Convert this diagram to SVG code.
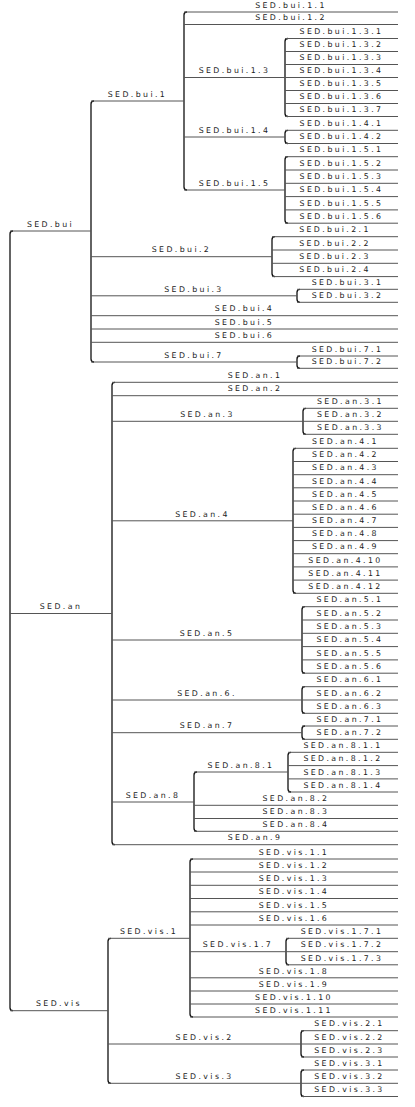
<svg xmlns="http://www.w3.org/2000/svg" width="415" height="1107" viewBox="0 0 415 1107">
<style>
.h{stroke:#555;stroke-width:1;fill:none}
.v{stroke:#111;stroke-width:1.3;fill:none}
text{font-family:"DejaVu Sans","Liberation Sans",sans-serif;font-size:7.8px;letter-spacing:2.4px;fill:#222;text-anchor:middle}
</style>
<rect width="415" height="1107" fill="#fff"/>
<g id="connectors">
<path class="v" d="M13,231Q10,231 10,234V1007.7Q10,1010.7 13,1010.7"/>
<path class="v" d="M94,101Q91,101 91,104V359Q91,362 94,362"/>
<path class="v" d="M187,12Q184,12 184,15V187Q184,190 187,190"/>
<path class="v" d="M288,38.5Q285,38.5 285,41.5V113.5Q285,116.5 288,116.5"/>
<path class="v" d="M288,130.3Q285,130.3 285,133.3V140.5Q285,143.5 288,143.5"/>
<path class="v" d="M288,156.7Q285,156.7 285,159.7V220.2Q285,223.2 288,223.2"/>
<path class="v" d="M275,236.7Q272,236.7 272,239.7V273.6Q272,276.6 275,276.6"/>
<path class="v" d="M300,289.3Q297,289.3 297,292.3V299.3Q297,302.3 300,302.3"/>
<path class="v" d="M300,356Q297,356 297,359V365.3Q297,368.3 300,368.3"/>
<path class="v" d="M115,382.3Q112,382.3 112,385.3V841.7Q112,844.7 115,844.7"/>
<path class="v" d="M306,408.3Q303,408.3 303,411.3V431.3Q303,434.3 306,434.3"/>
<path class="v" d="M296,448.3Q293,448.3 293,451.3V590.3Q293,593.3 296,593.3"/>
<path class="v" d="M305,606.7Q302,606.7 302,609.7V670.2Q302,673.2 305,673.2"/>
<path class="v" d="M305,686.7Q302,686.7 302,689.7V710.3Q302,713.3 305,713.3"/>
<path class="v" d="M305,726Q302,726 302,729V736.3Q302,739.3 305,739.3"/>
<path class="v" d="M197,772Q194,772 194,775V828.3Q194,831.3 197,831.3"/>
<path class="v" d="M291,752.3Q288,752.3 288,755.3V789Q288,792 291,792"/>
<path class="v" d="M111,938.3Q108,938.3 108,941.3V1080.3Q108,1083.3 111,1083.3"/>
<path class="v" d="M193,859Q190,859 190,862V1014Q190,1017 193,1017"/>
<path class="v" d="M289,938.3Q286,938.3 286,941.3V961.8Q286,964.8 289,964.8"/>
<path class="v" d="M304,1030.7Q301,1030.7 301,1033.7V1054Q301,1057 304,1057"/>
<path class="v" d="M304,1070Q301,1070 301,1073V1093.5Q301,1096.5 304,1096.5"/>
<line class="h" x1="10" y1="231" x2="91" y2="231"/>
<line class="h" x1="10" y1="613.5" x2="112" y2="613.5"/>
<line class="h" x1="10" y1="1010.7" x2="108" y2="1010.7"/>
<line class="h" x1="91" y1="101" x2="184" y2="101"/>
<line class="h" x1="184" y1="12" x2="398" y2="12"/>
<line class="h" x1="184" y1="24.5" x2="398" y2="24.5"/>
<line class="h" x1="184" y1="77.5" x2="285" y2="77.5"/>
<line class="h" x1="285" y1="38.5" x2="398" y2="38.5"/>
<line class="h" x1="285" y1="51.5" x2="398" y2="51.5"/>
<line class="h" x1="285" y1="64.5" x2="398" y2="64.5"/>
<line class="h" x1="285" y1="77.5" x2="398" y2="77.5"/>
<line class="h" x1="285" y1="90.5" x2="398" y2="90.5"/>
<line class="h" x1="285" y1="103.5" x2="398" y2="103.5"/>
<line class="h" x1="285" y1="116.5" x2="398" y2="116.5"/>
<line class="h" x1="184" y1="137" x2="285" y2="137"/>
<line class="h" x1="285" y1="130.3" x2="398" y2="130.3"/>
<line class="h" x1="285" y1="143.5" x2="398" y2="143.5"/>
<line class="h" x1="184" y1="190" x2="285" y2="190"/>
<line class="h" x1="285" y1="156.7" x2="398" y2="156.7"/>
<line class="h" x1="285" y1="170" x2="398" y2="170"/>
<line class="h" x1="285" y1="183.3" x2="398" y2="183.3"/>
<line class="h" x1="285" y1="196.6" x2="398" y2="196.6"/>
<line class="h" x1="285" y1="209.9" x2="398" y2="209.9"/>
<line class="h" x1="285" y1="223.2" x2="398" y2="223.2"/>
<line class="h" x1="91" y1="256.7" x2="272" y2="256.7"/>
<line class="h" x1="272" y1="236.7" x2="398" y2="236.7"/>
<line class="h" x1="272" y1="250" x2="398" y2="250"/>
<line class="h" x1="272" y1="263.3" x2="398" y2="263.3"/>
<line class="h" x1="272" y1="276.6" x2="398" y2="276.6"/>
<line class="h" x1="91" y1="295.8" x2="297" y2="295.8"/>
<line class="h" x1="297" y1="289.3" x2="398" y2="289.3"/>
<line class="h" x1="297" y1="302.3" x2="398" y2="302.3"/>
<line class="h" x1="91" y1="315.7" x2="398" y2="315.7"/>
<line class="h" x1="91" y1="329" x2="398" y2="329"/>
<line class="h" x1="91" y1="342.3" x2="398" y2="342.3"/>
<line class="h" x1="91" y1="362" x2="297" y2="362"/>
<line class="h" x1="297" y1="356" x2="398" y2="356"/>
<line class="h" x1="297" y1="368.3" x2="398" y2="368.3"/>
<line class="h" x1="112" y1="382.3" x2="398" y2="382.3"/>
<line class="h" x1="112" y1="395.7" x2="398" y2="395.7"/>
<line class="h" x1="112" y1="421.3" x2="303" y2="421.3"/>
<line class="h" x1="303" y1="408.3" x2="398" y2="408.3"/>
<line class="h" x1="303" y1="421.3" x2="398" y2="421.3"/>
<line class="h" x1="303" y1="434.3" x2="398" y2="434.3"/>
<line class="h" x1="112" y1="520.8" x2="293" y2="520.8"/>
<line class="h" x1="293" y1="448.3" x2="398" y2="448.3"/>
<line class="h" x1="293" y1="461.5" x2="398" y2="461.5"/>
<line class="h" x1="293" y1="474.7" x2="398" y2="474.7"/>
<line class="h" x1="293" y1="487.8" x2="398" y2="487.8"/>
<line class="h" x1="293" y1="501" x2="398" y2="501"/>
<line class="h" x1="293" y1="514.2" x2="398" y2="514.2"/>
<line class="h" x1="293" y1="527.4" x2="398" y2="527.4"/>
<line class="h" x1="293" y1="540.6" x2="398" y2="540.6"/>
<line class="h" x1="293" y1="553.7" x2="398" y2="553.7"/>
<line class="h" x1="293" y1="566.9" x2="398" y2="566.9"/>
<line class="h" x1="293" y1="580.1" x2="398" y2="580.1"/>
<line class="h" x1="293" y1="593.3" x2="398" y2="593.3"/>
<line class="h" x1="112" y1="640" x2="302" y2="640"/>
<line class="h" x1="302" y1="606.7" x2="398" y2="606.7"/>
<line class="h" x1="302" y1="620" x2="398" y2="620"/>
<line class="h" x1="302" y1="633.3" x2="398" y2="633.3"/>
<line class="h" x1="302" y1="646.6" x2="398" y2="646.6"/>
<line class="h" x1="302" y1="659.9" x2="398" y2="659.9"/>
<line class="h" x1="302" y1="673.2" x2="398" y2="673.2"/>
<line class="h" x1="112" y1="700" x2="302" y2="700"/>
<line class="h" x1="302" y1="686.7" x2="398" y2="686.7"/>
<line class="h" x1="302" y1="700" x2="398" y2="700"/>
<line class="h" x1="302" y1="713.3" x2="398" y2="713.3"/>
<line class="h" x1="112" y1="732.7" x2="302" y2="732.7"/>
<line class="h" x1="302" y1="726" x2="398" y2="726"/>
<line class="h" x1="302" y1="739.3" x2="398" y2="739.3"/>
<line class="h" x1="112" y1="802" x2="194" y2="802"/>
<line class="h" x1="194" y1="772" x2="288" y2="772"/>
<line class="h" x1="288" y1="752.3" x2="398" y2="752.3"/>
<line class="h" x1="288" y1="765.6" x2="398" y2="765.6"/>
<line class="h" x1="288" y1="778.9" x2="398" y2="778.9"/>
<line class="h" x1="288" y1="792" x2="398" y2="792"/>
<line class="h" x1="194" y1="805.3" x2="398" y2="805.3"/>
<line class="h" x1="194" y1="818.5" x2="398" y2="818.5"/>
<line class="h" x1="194" y1="831.3" x2="398" y2="831.3"/>
<line class="h" x1="112" y1="844.7" x2="398" y2="844.7"/>
<line class="h" x1="108" y1="938.3" x2="190" y2="938.3"/>
<line class="h" x1="190" y1="859" x2="398" y2="859"/>
<line class="h" x1="190" y1="872" x2="398" y2="872"/>
<line class="h" x1="190" y1="885.3" x2="398" y2="885.3"/>
<line class="h" x1="190" y1="898.5" x2="398" y2="898.5"/>
<line class="h" x1="190" y1="911.8" x2="398" y2="911.8"/>
<line class="h" x1="190" y1="925" x2="398" y2="925"/>
<line class="h" x1="190" y1="951.7" x2="286" y2="951.7"/>
<line class="h" x1="286" y1="938.3" x2="398" y2="938.3"/>
<line class="h" x1="286" y1="951.7" x2="398" y2="951.7"/>
<line class="h" x1="286" y1="964.8" x2="398" y2="964.8"/>
<line class="h" x1="190" y1="977.8" x2="398" y2="977.8"/>
<line class="h" x1="190" y1="991" x2="398" y2="991"/>
<line class="h" x1="190" y1="1004" x2="398" y2="1004"/>
<line class="h" x1="190" y1="1017" x2="398" y2="1017"/>
<line class="h" x1="108" y1="1044" x2="301" y2="1044"/>
<line class="h" x1="301" y1="1030.7" x2="398" y2="1030.7"/>
<line class="h" x1="301" y1="1044" x2="398" y2="1044"/>
<line class="h" x1="301" y1="1057" x2="398" y2="1057"/>
<line class="h" x1="108" y1="1083.3" x2="301" y2="1083.3"/>
<line class="h" x1="301" y1="1070" x2="398" y2="1070"/>
<line class="h" x1="301" y1="1083.3" x2="398" y2="1083.3"/>
<line class="h" x1="301" y1="1096.5" x2="398" y2="1096.5"/>
</g>
<g id="nodes" transform="translate(0,-0.7)">
<g id="n-bui"><text x="50.5" y="227.5">SED.bui</text></g>
<g id="n-an"><text x="61" y="610">SED.an</text></g>
<g id="n-vis"><text x="59" y="1007.2">SED.vis</text></g>
<g id="n-bui-1"><text x="137.5" y="97.5">SED.bui.1</text></g>
<g id="n-bui-1-1"><text x="291" y="8.5">SED.bui.1.1</text></g>
<g id="n-bui-1-2"><text x="291" y="21">SED.bui.1.2</text></g>
<g id="n-bui-1-3"><text x="234.5" y="74">SED.bui.1.3</text></g>
<g id="n-bui-1-3-1"><text x="341.5" y="35">SED.bui.1.3.1</text></g>
<g id="n-bui-1-3-2"><text x="341.5" y="48">SED.bui.1.3.2</text></g>
<g id="n-bui-1-3-3"><text x="341.5" y="61">SED.bui.1.3.3</text></g>
<g id="n-bui-1-3-4"><text x="341.5" y="74">SED.bui.1.3.4</text></g>
<g id="n-bui-1-3-5"><text x="341.5" y="87">SED.bui.1.3.5</text></g>
<g id="n-bui-1-3-6"><text x="341.5" y="100">SED.bui.1.3.6</text></g>
<g id="n-bui-1-3-7"><text x="341.5" y="113">SED.bui.1.3.7</text></g>
<g id="n-bui-1-4"><text x="234.5" y="133.5">SED.bui.1.4</text></g>
<g id="n-bui-1-4-1"><text x="341.5" y="126.8">SED.bui.1.4.1</text></g>
<g id="n-bui-1-4-2"><text x="341.5" y="140">SED.bui.1.4.2</text></g>
<g id="n-bui-1-5"><text x="234.5" y="186.5">SED.bui.1.5</text></g>
<g id="n-bui-1-5-1"><text x="341.5" y="153.2">SED.bui.1.5.1</text></g>
<g id="n-bui-1-5-2"><text x="341.5" y="166.5">SED.bui.1.5.2</text></g>
<g id="n-bui-1-5-3"><text x="341.5" y="179.8">SED.bui.1.5.3</text></g>
<g id="n-bui-1-5-4"><text x="341.5" y="193.1">SED.bui.1.5.4</text></g>
<g id="n-bui-1-5-5"><text x="341.5" y="206.4">SED.bui.1.5.5</text></g>
<g id="n-bui-1-5-6"><text x="341.5" y="219.7">SED.bui.1.5.6</text></g>
<g id="n-bui-2"><text x="181.5" y="253.2">SED.bui.2</text></g>
<g id="n-bui-2-1"><text x="335" y="233.2">SED.bui.2.1</text></g>
<g id="n-bui-2-2"><text x="335" y="246.5">SED.bui.2.2</text></g>
<g id="n-bui-2-3"><text x="335" y="259.8">SED.bui.2.3</text></g>
<g id="n-bui-2-4"><text x="335" y="273.1">SED.bui.2.4</text></g>
<g id="n-bui-3"><text x="194" y="292.3">SED.bui.3</text></g>
<g id="n-bui-3-1"><text x="347.5" y="285.8">SED.bui.3.1</text></g>
<g id="n-bui-3-2"><text x="347.5" y="298.8">SED.bui.3.2</text></g>
<g id="n-bui-4"><text x="244.5" y="312.2">SED.bui.4</text></g>
<g id="n-bui-5"><text x="244.5" y="325.5">SED.bui.5</text></g>
<g id="n-bui-6"><text x="244.5" y="338.8">SED.bui.6</text></g>
<g id="n-bui-7"><text x="194" y="358.5">SED.bui.7</text></g>
<g id="n-bui-7-1"><text x="347.5" y="352.5">SED.bui.7.1</text></g>
<g id="n-bui-7-2"><text x="347.5" y="364.8">SED.bui.7.2</text></g>
<g id="n-an-1"><text x="255" y="378.8">SED.an.1</text></g>
<g id="n-an-2"><text x="255" y="392.2">SED.an.2</text></g>
<g id="n-an-3"><text x="207.5" y="417.8">SED.an.3</text></g>
<g id="n-an-3-1"><text x="350.5" y="404.8">SED.an.3.1</text></g>
<g id="n-an-3-2"><text x="350.5" y="417.8">SED.an.3.2</text></g>
<g id="n-an-3-3"><text x="350.5" y="430.8">SED.an.3.3</text></g>
<g id="n-an-4"><text x="202.5" y="517.3">SED.an.4</text></g>
<g id="n-an-4-1"><text x="345.5" y="444.8">SED.an.4.1</text></g>
<g id="n-an-4-2"><text x="345.5" y="458">SED.an.4.2</text></g>
<g id="n-an-4-3"><text x="345.5" y="471.2">SED.an.4.3</text></g>
<g id="n-an-4-4"><text x="345.5" y="484.3">SED.an.4.4</text></g>
<g id="n-an-4-5"><text x="345.5" y="497.5">SED.an.4.5</text></g>
<g id="n-an-4-6"><text x="345.5" y="510.7">SED.an.4.6</text></g>
<g id="n-an-4-7"><text x="345.5" y="523.9">SED.an.4.7</text></g>
<g id="n-an-4-8"><text x="345.5" y="537.1">SED.an.4.8</text></g>
<g id="n-an-4-9"><text x="345.5" y="550.2">SED.an.4.9</text></g>
<g id="n-an-4-10"><text x="345.5" y="563.4">SED.an.4.10</text></g>
<g id="n-an-4-11"><text x="345.5" y="576.6">SED.an.4.11</text></g>
<g id="n-an-4-12"><text x="345.5" y="589.8">SED.an.4.12</text></g>
<g id="n-an-5"><text x="207" y="636.5">SED.an.5</text></g>
<g id="n-an-5-1"><text x="350" y="603.2">SED.an.5.1</text></g>
<g id="n-an-5-2"><text x="350" y="616.5">SED.an.5.2</text></g>
<g id="n-an-5-3"><text x="350" y="629.8">SED.an.5.3</text></g>
<g id="n-an-5-4"><text x="350" y="643.1">SED.an.5.4</text></g>
<g id="n-an-5-5"><text x="350" y="656.4">SED.an.5.5</text></g>
<g id="n-an-5-6"><text x="350" y="669.7">SED.an.5.6</text></g>
<g id="n-an-6"><text x="207" y="696.5">SED.an.6.</text></g>
<g id="n-an-6-1"><text x="350" y="683.2">SED.an.6.1</text></g>
<g id="n-an-6-2"><text x="350" y="696.5">SED.an.6.2</text></g>
<g id="n-an-6-3"><text x="350" y="709.8">SED.an.6.3</text></g>
<g id="n-an-7"><text x="207" y="729.2">SED.an.7</text></g>
<g id="n-an-7-1"><text x="350" y="722.5">SED.an.7.1</text></g>
<g id="n-an-7-2"><text x="350" y="735.8">SED.an.7.2</text></g>
<g id="n-an-8"><text x="153" y="798.5">SED.an.8</text></g>
<g id="n-an-8-1"><text x="241" y="768.5">SED.an.8.1</text></g>
<g id="n-an-8-1-1"><text x="343" y="748.8">SED.an.8.1.1</text></g>
<g id="n-an-8-1-2"><text x="343" y="762.1">SED.an.8.1.2</text></g>
<g id="n-an-8-1-3"><text x="343" y="775.4">SED.an.8.1.3</text></g>
<g id="n-an-8-1-4"><text x="343" y="788.5">SED.an.8.1.4</text></g>
<g id="n-an-8-2"><text x="296" y="801.8">SED.an.8.2</text></g>
<g id="n-an-8-3"><text x="296" y="815">SED.an.8.3</text></g>
<g id="n-an-8-4"><text x="296" y="827.8">SED.an.8.4</text></g>
<g id="n-an-9"><text x="255" y="841.2">SED.an.9</text></g>
<g id="n-vis-1"><text x="149" y="934.8">SED.vis.1</text></g>
<g id="n-vis-1-1"><text x="294" y="855.5">SED.vis.1.1</text></g>
<g id="n-vis-1-2"><text x="294" y="868.5">SED.vis.1.2</text></g>
<g id="n-vis-1-3"><text x="294" y="881.8">SED.vis.1.3</text></g>
<g id="n-vis-1-4"><text x="294" y="895">SED.vis.1.4</text></g>
<g id="n-vis-1-5"><text x="294" y="908.3">SED.vis.1.5</text></g>
<g id="n-vis-1-6"><text x="294" y="921.5">SED.vis.1.6</text></g>
<g id="n-vis-1-7"><text x="238" y="948.2">SED.vis.1.7</text></g>
<g id="n-vis-1-7-1"><text x="342" y="934.8">SED.vis.1.7.1</text></g>
<g id="n-vis-1-7-2"><text x="342" y="948.2">SED.vis.1.7.2</text></g>
<g id="n-vis-1-7-3"><text x="342" y="961.3">SED.vis.1.7.3</text></g>
<g id="n-vis-1-8"><text x="294" y="974.3">SED.vis.1.8</text></g>
<g id="n-vis-1-9"><text x="294" y="987.5">SED.vis.1.9</text></g>
<g id="n-vis-1-10"><text x="294" y="1000.5">SED.vis.1.10</text></g>
<g id="n-vis-1-11"><text x="294" y="1013.5">SED.vis.1.11</text></g>
<g id="n-vis-2"><text x="204.5" y="1040.5">SED.vis.2</text></g>
<g id="n-vis-2-1"><text x="349.5" y="1027.2">SED.vis.2.1</text></g>
<g id="n-vis-2-2"><text x="349.5" y="1040.5">SED.vis.2.2</text></g>
<g id="n-vis-2-3"><text x="349.5" y="1053.5">SED.vis.2.3</text></g>
<g id="n-vis-3"><text x="204.5" y="1079.8">SED.vis.3</text></g>
<g id="n-vis-3-1"><text x="349.5" y="1066.5">SED.vis.3.1</text></g>
<g id="n-vis-3-2"><text x="349.5" y="1079.8">SED.vis.3.2</text></g>
<g id="n-vis-3-3"><text x="349.5" y="1093">SED.vis.3.3</text></g>
</g>
</svg>
